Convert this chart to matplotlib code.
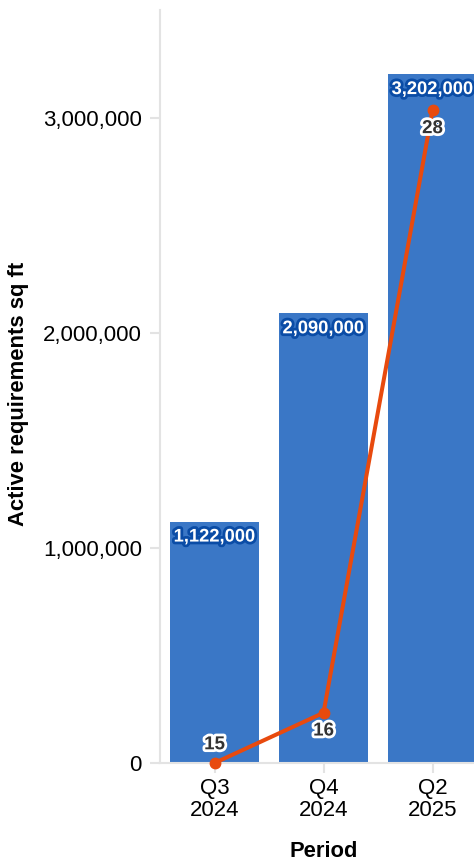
import matplotlib.pyplot as plt
import matplotlib.patheffects as pe
from matplotlib.ticker import FuncFormatter

# ----------------------------
# Data
# ----------------------------
periods = ["Q3\n2024", "Q4\n2024", "Q2\n2025"]
sqft = [1122000, 2090000, 3202000]
counts = [15, 16, 28]
yticks = [0, 1000000, 2000000, 3000000]

BAR_COLOR = "#3a77c6"
BAR_EDGE_TEXT = "#0a4ca6"
LINE_COLOR = "#e84a0e"
AXIS_GRAY = "#e3e3e3"

plt.rcParams["font.family"] = ["Liberation Sans", "DejaVu Sans"]

fig = plt.figure(figsize=(4.74, 8.65), dpi=100)
# plot area runs off the right edge, like the reference crop
ax = fig.add_axes([160 / 474, 1 - 763 / 865, 327 / 474, 753 / 865])

x = list(range(len(periods)))
ax.bar(x, sqft, width=0.81, color=BAR_COLOR, zorder=2)
ax.set_xlim(-0.5, len(periods) - 0.5)
ax.set_ylim(0, 3500000)

ax.set_yticks(yticks)
ax.yaxis.set_major_formatter(FuncFormatter(lambda v, p: f"{int(v):,}"))
ax.set_xticks(x)
ax.set_xticklabels(periods, linespacing=1.05)
ax.tick_params(axis="y", length=7, width=1.5, color=AXIS_GRAY, labelsize=16, pad=6)
ax.tick_params(axis="x", length=7, width=1.5, color=AXIS_GRAY, labelsize=16, pad=4)

for side in ["top", "right"]:
    ax.spines[side].set_visible(False)
ax.spines["left"].set_color(AXIS_GRAY)
ax.spines["left"].set_linewidth(1.5)
ax.spines["bottom"].set_color(AXIS_GRAY)
ax.spines["bottom"].set_linewidth(1.5)

ax.set_ylabel("Active requirements sq ft", fontsize=15.8, fontweight="bold")
ax.yaxis.set_label_coords(-0.434, 0.49)
ax.yaxis.label.set_va("center")
ax.set_xlabel("Period", fontsize=15.8, fontweight="bold")
ax.xaxis.set_label_coords(0.5, -0.118)
ax.xaxis.label.set_va("center")

# bar value labels inside the top of each bar
for xi, v in zip(x, sqft):
    ax.annotate(f"{v:,}", (xi, v), xytext=(0, -5), textcoords="offset points",
                ha="center", va="top", fontsize=13.2, fontweight="bold", color="white",
                zorder=5,
                path_effects=[pe.withStroke(linewidth=4, foreground=BAR_EDGE_TEXT)])

# count line on its own hidden scale
ax2 = ax.twinx()
ax2.set_ylim(15, 30)
ax2.axis("off")
ax2.plot(x, counts, color=LINE_COLOR, linewidth=2.9, marker="o", markersize=7.5,
         zorder=3, clip_on=False)

for i, (xi, c) in enumerate(zip(x, counts)):
    dy = 7 if i == 0 else -7
    ax2.annotate(str(c), (xi, c), xytext=(0, dy), textcoords="offset points",
                 ha="center", va="bottom" if dy > 0 else "top",
                 fontsize=13.5, fontweight="bold", color="#333333", zorder=6,
                 path_effects=[pe.withStroke(linewidth=4, foreground="white")])

fig.savefig("out.png", dpi=100)
